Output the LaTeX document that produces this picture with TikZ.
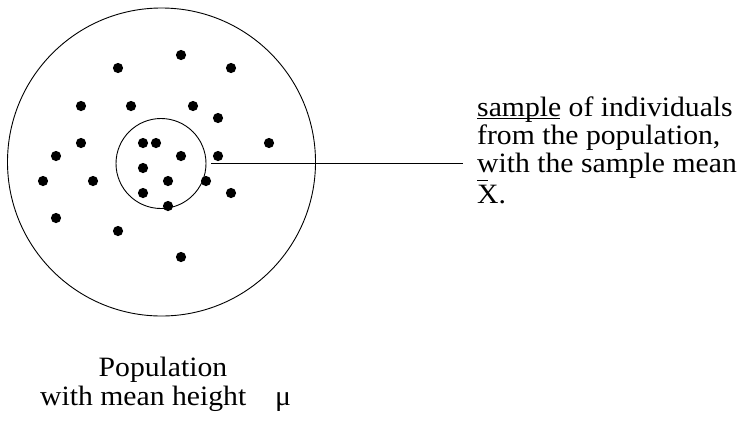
\documentclass[tikz,border=0pt]{standalone}
\usepackage{fontspec}
\setmainfont{Liberation Serif}[FakeStretch=1.06]
\begin{document}
\begin{tikzpicture}[x=1pt,y=-1pt,
  ring/.style={draw=black,line width=0.9pt,circle,inner sep=0pt},
  dot/.style={fill=black},
  txt/.style={anchor=base west,inner sep=0pt,font=\fontsize{28}{28}\selectfont},
  conn/.style={draw=black,line width=0.9pt}]
\useasboundingbox[fill=white] (0,0) rectangle (744,421);
\node[ring,minimum size=308pt] (pop) at (161.5,162) {};
\node[ring,minimum size=90pt] (samp) at (161,163.5) {};
\foreach \x/\y in {181/55,118/68,231/68,81/106,131/106,193/106,218/118,
  81/143,143/143,156/143,269/143,56/156,181/156,218/156,143/168,
  43/181,93/181,168/181,206/181,231/193,143/193,168/206,56/218,118/231,181/257}
  \fill[dot] (\x,\y) circle (5.1);
\node[txt] (l1) at (477,116) {\rlap{\rule[-2.5pt]{83pt}{0.9pt}}sample of individuals};
\node[txt] (l2) at (477,144) {from the population,};
\node[txt] (l3) at (477,172) {with the sample mean};
\node[txt] (l4) at (477,203) {\rlap{\raisebox{22pt}{\rule{11pt}{0.9pt}}}X.};
\coordinate (lend) at (463,163.5);
\draw[conn] ([xshift=5pt]samp.east) -- (lend);
\node[txt,anchor=base] (p1) at (163,376) {Population};
\node[txt] (p2) at (40,405) {with mean height};
\node[txt] (mu) at (275,405) {μ};
\end{tikzpicture}
\end{document}
